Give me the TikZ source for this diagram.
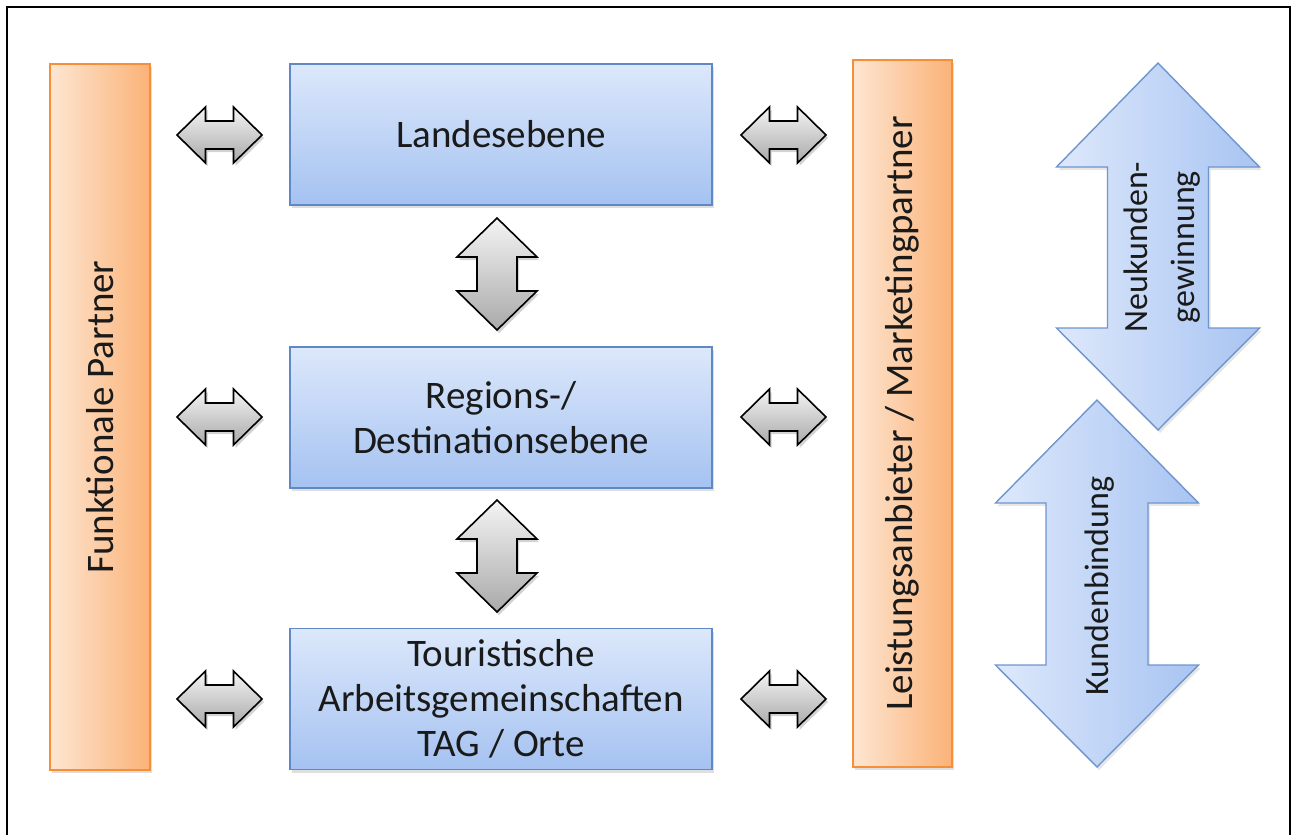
\documentclass[tikz,border=0pt]{standalone}
\usepackage{fontspec}
\setmainfont{Carlito}
\usetikzlibrary{shadows}
\definecolor{lvltop}{HTML}{DCE8FB}
\definecolor{lvlbot}{HTML}{A5C2F1}
\definecolor{lvlborder}{HTML}{5F88C4}
\definecolor{orlight}{HTML}{FDE6D2}
\definecolor{ordark}{HTML}{FBB277}
\definecolor{orborder}{HTML}{F58F3A}
\definecolor{bluelight}{HTML}{DDE8FB}
\definecolor{bluedark}{HTML}{A8C4F2}
\definecolor{blueborder}{HTML}{6E95CF}
\definecolor{graytop}{HTML}{F4F4F4}
\definecolor{graybot}{HTML}{A9A9A9}
\definecolor{txt}{HTML}{1A1A1A}
\newcommand{\hdbl}[3]{%
  \coordinate (#1) at (#2,#3);
  \draw[grayarr, shift={(#2,#3)}] (-42.5,0) -- (-14,-28) -- (-14,-14) -- (14,-14) -- (14,-28) -- (42.5,0) -- (14,28) -- (14,14) -- (-14,14) -- (-14,28) -- cycle;}
\newcommand{\vdbl}[3]{%
  \coordinate (#1) at (#2,#3);
  \draw[grayarr, shift={(#2,#3)}] (0,-56) -- (40,-17) -- (20,-17) -- (20,17) -- (40,17) -- (0,56) -- (-40,17) -- (-20,17) -- (-20,-17) -- (-40,-17) -- cycle;}
\begin{document}
\begin{tikzpicture}[x=0.5pt,y=-0.5pt,
  lvl/.style={rectangle, draw=lvlborder, line width=0.7pt, top color=lvltop, bottom color=lvlbot,
    align=center, inner sep=0pt, minimum width=211pt, minimum height=70.5pt, text=txt,
    font=\fontsize{19.5}{22.5}\selectfont,
    drop shadow={opacity=0.25, shadow xshift=1pt, shadow yshift=-1.5pt}},
  partner/.style={rectangle, draw=orborder, line width=0.8pt, left color=orlight, right color=ordark,
    inner sep=0pt, minimum width=50pt, minimum height=353pt,
    drop shadow={opacity=0.25, shadow xshift=1pt, shadow yshift=-1.5pt}},
  vtext/.style={rotate=90, text=txt, align=center, font=\fontsize{19.5}{22.5}\selectfont},
  smalltext/.style={rotate=90, text=txt, align=center, font=\fontsize{17}{23.5}\selectfont},
  grayarr/.style={draw=black, line width=0.8pt, line join=miter, top color=graytop, bottom color=graybot,
    drop shadow={opacity=0.35, shadow xshift=1pt, shadow yshift=-1.5pt}},
  bigarr/.style={draw=blueborder, line width=0.7pt, line join=miter, left color=bluelight, right color=bluedark,
    drop shadow={opacity=0.2, shadow xshift=1pt, shadow yshift=-1.5pt}}
]
\useasboundingbox (0,0) rectangle (1296,835);
\draw[line width=1pt, black] (7,836) -- (7,7) -- (1290,7) -- (1290,836);

% partner bars
\node[partner] (fp) at (100,417) {};
\node[vtext] (fptext) at (fp.center) {Funktionale Partner};
\node[partner, minimum width=49.5pt, minimum height=353.5pt] (lp) at (902.5,413.5) {};
\node[vtext] (lptext) at (lp.center) {Leistungsanbieter / Marketingpartner};

% level boxes
\node[lvl] (land) at (501,134.5) {Landesebene};
\node[lvl] (reg) at (501,417.5) {Regions-/\\Destinationsebene};
\node[lvl] (tag) at (501,699) {Touristische\\Arbeitsgemeinschaften\\TAG / Orte};

% gray double arrows
\hdbl{l1}{219.5}{135}
\hdbl{l2}{219.5}{417}
\hdbl{l3}{219.5}{699}
\hdbl{r1}{783.5}{135}
\hdbl{r2}{783.5}{417}
\hdbl{r3}{783.5}{699}
\vdbl{v1}{497}{274}
\vdbl{v2}{497}{556}

% big blue arrows
\draw[bigarr] (1158,63) -- (1259.5,167) -- (1208.5,167) -- (1208.5,328) -- (1259.5,328) -- (1158,430)
  -- (1056.5,328) -- (1107.5,328) -- (1107.5,167) -- (1056.5,167) -- cycle;
\node[smalltext] (neu) at (1162,247) {Neukunden-\\gewinnung};
\draw[bigarr] (1097,400) -- (1198.5,503) -- (1148,503) -- (1148,665) -- (1198.5,665) -- (1097,767)
  -- (995.5,665) -- (1046,665) -- (1046,503) -- (995.5,503) -- cycle;
\node[smalltext] (kb) at (1100,586) {Kundenbindung};
\end{tikzpicture}
\end{document}
